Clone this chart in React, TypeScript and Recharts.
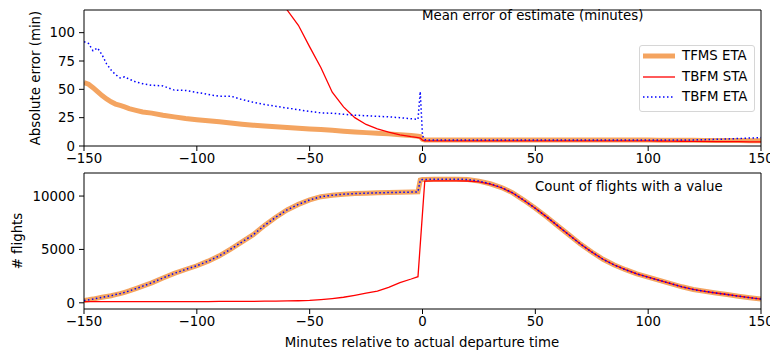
import React from "react";
import { LineChart, Line, XAxis, YAxis } from "recharts";

// minutes relative to actual departure time
const minutes = [
  -150, -148, -146, -144, -142, -140, -138, -136, -134, -132, -130,
  -127, -124,
  -120, -115, -110, -105, -100, -95, -90, -85, -80, -75, -70, -65, -60, -55, -50, -45, -40, -35, -30, -25, -20, -15, -10, -5,
  -2, -1, 0, 1,
  5, 10, 15, 20, 25, 30, 35, 40, 45, 50, 55, 60, 65, 70, 75, 80, 85, 90, 95, 100, 105, 110, 115, 120, 125, 130, 135, 140, 145, 150,
];

// mean absolute error (min)
const tfmsEtaErr = [
  56, 54.5, 51.5, 48, 44.5, 41.5, 39, 37, 35.8, 34.5, 33,
  31.5, 30,
  29, 27.2, 25.7, 24.3, 23.2, 22.3, 21.3, 20.2, 19.2, 18.4, 17.7, 17, 16.3, 15.7, 15.1, 14.5, 13.8, 13.1, 12.4, 11.8, 11.3, 10.7, 10, 9.2,
  8.7, 8.3, 6, 5.4,
  5.3, 5.3, 5.3, 5.3, 5.3, 5.3, 5.3, 5.3, 5.3, 5.3, 5.3, 5.3, 5.3, 5.3, 5.3, 5.3, 5.3, 5.3, 5.2, 5.2,
  5.1, 5.1, 5.0, 5.0, 4.9, 4.9, 4.8, 4.8, 4.7, 4.7,
];

const tbfmStaErr = [
  null, null, null, null, null, null, null, null, null, null, null,
  null, null,
  null, null, null, null, null, null, null, null, null, null, null, 138, 120, 106.5, 87.5, 69, 47.5, 34.5, 25, 19, 15.2, 12.3, 9.8, 8.2,
  7.4, 7.0, 5.2, 4.6,
  4.5, 4.5, 4.5, 4.5, 4.5, 4.5, 4.5, 4.5, 4.5, 4.5, 4.5, 4.5, 4.5, 4.5, 4.5, 4.5, 4.5, 4.5, 4.5, 4.5,
  4.4, 4.3, 4.2, 4.1, 4.0, 3.9, 3.8, 3.8, 3.7, 3.7,
];

const tbfmEtaErr = [
  92, 90.5, 84, 86.5, 80.5, 72.5, 67, 63, 60, 61, 59,
  56.5, 55,
  53.6, 53, 49.3, 49, 47.3, 45.5, 43.8, 44, 41, 38.6, 36.7, 35, 33.5, 32, 30.5, 29.2, 28.9, 28, 27.2, 26.7, 26.2, 25.7, 25, 24,
  23.5, 48, 9, 5.5,
  5.2, 5.2, 5.2, 5.2, 5.2, 5.2, 5.2, 5.2, 5.2, 5.2, 5.2, 5.2, 5.2, 5.2, 5.2, 5.2, 5.2, 5.2, 5.2, 5.2, 5.2, 5.2, 5.2,
  5.4, 5.6, 5.9, 6.2, 6.6, 7.0, 7.4,
];

// count of flights with a value
const tfmsEtaCount = [
  220, 280, 350, 440, 520, 590, 660, 770, 860, 980, 1110,
  1330, 1560,
  1870, 2330, 2760, 3120, 3470, 3900, 4400, 5030, 5700, 6380, 7250, 8020, 8700, 9220, 9640, 9940, 10080, 10180, 10230, 10270, 10300, 10330, 10350, 10370,
  10390, 11500, 11550, 11560,
  11570, 11570, 11570, 11560, 11400, 11150, 10800, 10300, 9600, 8850, 8050, 7200, 6350, 5500, 4760, 4080, 3540, 3100, 2710, 2400,
  2100, 1800, 1500, 1250, 1080, 920, 780, 620, 480, 350,
];

const tbfmStaCount = [
  120, 120, 120, 120, 120, 120, 120, 120, 120, 120, 120,
  120, 120,
  120, 120, 120, 120, 120, 120, 125, 130, 135, 140, 150, 160, 175, 195, 220, 300, 400, 520, 700, 900, 1100, 1450, 1890, 2230,
  2450, null, null, 11400,
  11420, 11420, 11420, 11410, 11330, 11120, 10780, 10280, 9590, 8850, 8050, 7200, 6350, 5500, 4760, 4080, 3540, 3100, 2710, 2400,
  2100, 1800, 1500, 1250, 1080, 920, 780, 620, 480, 350,
];

const tbfmEtaCount = [
  220, 280, 350, 440, 520, 590, 660, 770, 860, 980, 1110,
  1330, 1560,
  1870, 2330, 2760, 3120, 3470, 3900, 4400, 5030, 5700, 6380, 7250, 8020, 8700, 9220, 9640, 9940, 10080, 10180, 10230, 10270, 10300, 10330, 10350, 10370,
  10390, 11500, 11550, 11560,
  11570, 11570, 11570, 11560, 11400, 11150, 10800, 10300, 9600, 8850, 8050, 7200, 6350, 5500, 4760, 4080, 3540, 3100, 2710, 2400,
  2100, 1800, 1500, 1250, 1080, 920, 780, 620, 480, 350,
];

const xTicks = [-150, -100, -50, 0, 50, 100, 150];
const errTicks = [0, 25, 50, 75, 100];
const countTicks = [0, 5000, 10000];

const errData = minutes.map((m, i) => ({ m, tfms: tfmsEtaErr[i], sta: tbfmStaErr[i], eta: tbfmEtaErr[i] }));
const countData = minutes.map((m, i) => ({ m, tfms: tfmsEtaCount[i], sta: tbfmStaCount[i], eta: tbfmEtaCount[i] }));

const FONT = '"DejaVu Sans", sans-serif';
const ORANGE = "#F4A460";
const tickStyle = { fill: "#000", fontSize: 13.33, fontFamily: FONT };
const black = { stroke: "#000" };
const fmt = (v: number) => (v < 0 ? `\u2212${Math.abs(v)}` : `${v}`);

const legendItems = [
  { name: "TFMS ETA", color: ORANGE, width: 5, dash: undefined },
  { name: "TBFM STA", color: "red", width: 1.3, dash: undefined },
  { name: "TBFM ETA", color: "blue", width: 1.5, dash: "1.5 2.5" },
];

const text: React.CSSProperties = { position: "absolute", fontFamily: FONT, fontSize: 13.33, color: "#000", lineHeight: "16px", whiteSpace: "nowrap" };

function Panel({ data, domain, ticks, height, bottom }: { data: any[]; domain: number[]; ticks: number[]; height: number; bottom: number }) {
  return (
    <LineChart width={770} height={height} data={data} margin={{ top: 9, right: 8, left: 0, bottom }}>
      <XAxis dataKey="m" type="number" domain={[-150, 150]} ticks={xTicks} interval={0} tickFormatter={fmt}
        tick={tickStyle} tickLine={black} axisLine={black} tickSize={5} tickMargin={3} height={24} allowDataOverflow />
      <XAxis xAxisId="top" orientation="top" type="number" domain={[-150, 150]} ticks={[]} tick={false} tickLine={false}
        axisLine={black} height={1} />
      <YAxis type="number" domain={domain} ticks={ticks} interval={0} tick={tickStyle} tickLine={black} axisLine={black}
        tickSize={5} tickMargin={4} width={84} allowDataOverflow />
      <YAxis yAxisId="right" orientation="right" type="number" domain={domain} ticks={[]} tick={false} tickLine={false}
        axisLine={black} width={1} />
      <Line dataKey="tfms" stroke={ORANGE} strokeWidth={5} dot={false} isAnimationActive={false} connectNulls />
      <Line dataKey="sta" stroke="red" strokeWidth={1.3} dot={false} isAnimationActive={false} connectNulls />
      <Line dataKey="eta" stroke="blue" strokeWidth={1.5} strokeDasharray="1.5 2.5" dot={false} isAnimationActive={false} connectNulls />
    </LineChart>
  );
}

export default function App() {
  return (
    <div style={{ position: "absolute", left: 0, top: 0, width: 770, height: 352, background: "#fff", overflow: "hidden" }}>
      <div style={{ position: "absolute", left: 0, top: 0 }}>
        <Panel data={errData} domain={[0, 120]} ticks={errTicks} height={170} bottom={0} />
      </div>
      <div style={{ position: "absolute", left: 0, top: 163 }}>
        <Panel data={countData} domain={[-580, 12160]} ticks={countTicks} height={189} bottom={19} />
      </div>

      <div style={{ ...text, left: 422, top: 8 }}>Mean error of estimate (minutes)</div>
      <div style={{ ...text, left: 535, top: 179 }}>Count of flights with a value</div>
      <div style={{ ...text, left: 422, top: 335, transform: "translateX(-50%)" }}>Minutes relative to actual departure time</div>
      <div style={{ ...text, left: 36, top: 78, transform: "translate(-50%, -50%) rotate(-90deg)" }}>Absolute error (min)</div>
      <div style={{ ...text, left: 18, top: 241, transform: "translate(-50%, -50%) rotate(-90deg)" }}># flights</div>

      <div style={{ position: "absolute", left: 639, top: 45, width: 114, height: 65, border: "1px solid #d6d6d6", borderRadius: 3, background: "rgba(255,255,255,0.8)" }}>
        {legendItems.map((it, i) => (
          <div key={it.name} style={{ position: "absolute", left: 0, top: 2 + i * 20.5, height: 16, width: 114 }}>
            <svg width={34} height={16} style={{ position: "absolute", left: 2, top: 0 }}>
              <line x1={1} x2={33} y1={8} y2={8} stroke={it.color} strokeWidth={it.width} strokeDasharray={it.dash} />
            </svg>
            <div style={{ ...text, left: 42, top: 0 }}>{it.name}</div>
          </div>
        ))}
      </div>
    </div>
  );
}
